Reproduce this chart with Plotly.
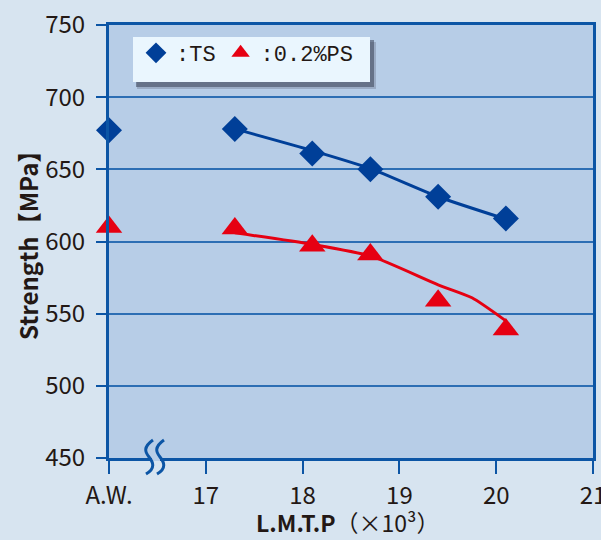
import plotly.graph_objects as go

# ---- data ----
x_ticks = [16, 17, 18, 19, 20, 21]
x_tick_labels = ["A.W.", "17", "18", "19", "20", "21"]
y_ticks = [450, 500, 550, 600, 650, 700, 750]

ts_x = [16, 17.3, 18.1, 18.7, 19.4, 20.1]
ts_y = [677, 678, 661, 650, 631, 616]
ps_x = [16, 17.3, 18.1, 18.7, 19.4, 20.1]
ps_y = [610, 609, 597, 591, 559, 539]

ts_fit_x = [17.3, 18.1, 18.7, 19.4, 20.1]
ts_fit_y = [678, 663, 650.5, 631, 615.5]
ps_fit_x = [17.3, 18.1, 18.7, 19.4, 19.75, 20.1]
ps_fit_y = [606, 598, 590, 570, 561, 545]

BLUE = "#003f98"
RED = "#e60012"
PAPER = "rgb(215,228,240)"
PLOT = "rgb(183,205,231)"
GRID = "rgb(45,110,180)"
AXIS = "rgb(12,85,165)"
TXT = "#231815"
FONT = "Noto Sans CJK JP"

fig = go.Figure()
fig.add_trace(go.Scatter(x=ts_fit_x, y=ts_fit_y, mode="lines", line=dict(color=BLUE, width=3, shape="spline", smoothing=0.6),
                         showlegend=False, hoverinfo="skip"))
fig.add_trace(go.Scatter(x=ps_fit_x, y=ps_fit_y, mode="lines", line=dict(color=RED, width=3, shape="spline", smoothing=0.6),
                         showlegend=False, hoverinfo="skip"))
fig.add_trace(go.Scatter(x=ts_x, y=ts_y, mode="markers", name=":TS",
                         marker=dict(symbol="diamond", size=20, color=BLUE), cliponaxis=False))
fig.add_trace(go.Scatter(x=ps_x, y=ps_y, mode="markers", name=":0.2%PS",
                         marker=dict(symbol="triangle-up", size=23, color=RED), cliponaxis=False))

# layout geometry (pixels)
L, R, T, B = 109, 593, 25, 458
W, H = R - L, B - T
def dx(px): return (px - L) / W
def dy(py): return (B - py) / H

shapes = []
# gap in the axis line between the two S marks
shapes.append(dict(type="rect", xref="x domain", yref="y domain", x0=dx(152), x1=dx(160), y0=dy(461), y1=dy(455),
                   fillcolor=PLOT, line=dict(width=0), layer="above"))
for off in (0, 11):
    p = (f"M {dx(153+off)} {dy(440)} C {dx(143+off)} {dy(447)} {dx(145+off)} {dy(452)} {dx(149+off)} {dy(457)} "
         f"C {dx(153+off)} {dy(462)} {dx(156+off)} {dy(468)} {dx(146+off)} {dy(474)}")
    shapes.append(dict(type="path", xref="x domain", yref="y domain", path=p,
                       line=dict(color=AXIS, width=3), layer="above"))
# legend shadow + box
shapes.append(dict(type="rect", xref="x domain", yref="y domain", x0=dx(137), x1=dx(376), y0=dy(89), y1=dy(42),
                   fillcolor="rgba(70,75,95,0.25)", line=dict(width=0), layer="above"))
shapes.append(dict(type="rect", xref="x domain", yref="y domain", x0=dx(136), x1=dx(374), y0=dy(87), y1=dy(40),
                   fillcolor="rgba(50,55,75,0.5)", line=dict(width=0), layer="above"))
shapes.append(dict(type="rect", xref="x domain", yref="y domain", x0=dx(133), x1=dx(370), y0=dy(82), y1=dy(37),
                   fillcolor="#eaf6fe", line=dict(width=0), layer="above"))

annotations = [
    dict(text="<b>L.M.T.P</b>（×10³）", xref="paper", yref="paper", x=dx(347), y=dy(522),
         xanchor="center", yanchor="middle", showarrow=False, font=dict(size=23, color=TXT, family=FONT)),
    dict(text="<b>Strength【MPa】</b>", xref="paper", yref="paper", x=dx(27), y=dy(240),
         xanchor="center", yanchor="middle", showarrow=False, textangle=-90,
         font=dict(size=24, color=TXT, family=FONT)),
]

fig.update_layout(
    width=601, height=540,
    margin=dict(l=L, r=601 - R, t=T, b=540 - B, autoexpand=False),
    paper_bgcolor=PAPER, plot_bgcolor=PLOT,
    font=dict(family=FONT, color=TXT, size=21),
    shapes=shapes, annotations=annotations,
    legend=dict(orientation="h", x=dx(136), y=dy(32), xanchor="left", yanchor="top",
                bgcolor="rgba(0,0,0,0)", borderwidth=0, font=dict(size=22, color=TXT, family="Liberation Mono"),
                itemwidth=30, tracegroupgap=0),
    xaxis=dict(range=[16, 21], tickvals=x_ticks, ticktext=x_tick_labels, showgrid=False, zeroline=False,
               showline=True, linecolor=AXIS, linewidth=3, mirror=True, automargin=False,
               ticks="outside", ticklen=13, tickwidth=2, tickcolor=AXIS, ticklabelstandoff=1,
               ticklabeloverflow="allow", tickfont=dict(size=24, color=TXT)),
    yaxis=dict(range=[450, 750], tickvals=y_ticks, showgrid=True, gridcolor=GRID, gridwidth=2, zeroline=False,
               showline=True, linecolor=AXIS, linewidth=3, mirror=True, automargin=False,
               ticks="outside", ticklen=10, tickwidth=2, tickcolor=AXIS, ticklabelstandoff=6,
               tickfont=dict(size=24, color=TXT)),
)

fig.write_html("out.html", config={"displayModeBar": False},
               post_script="document.body.style.margin='0';document.body.style.padding='0';")
